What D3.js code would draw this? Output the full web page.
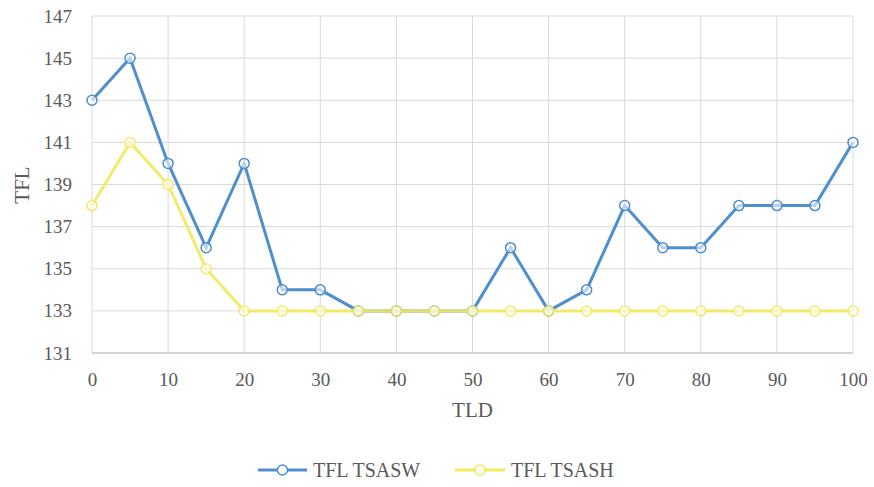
<!DOCTYPE html>
<html><head><meta charset="utf-8">
<script src="https://cdn.jsdelivr.net/npm/d3@7"></script>
</head><body style="margin:0;background:#fff">
<script>
const xValues = [0,5,10,15,20,25,30,35,40,45,50,55,60,65,70,75,80,85,90,95,100];
const tsasw = [143,145,140,136,140,134,134,133,133,133,133,136,133,134,138,136,136,138,138,138,141];
const tsash = [138,141,139,135,133,133,133,133,133,133,133,133,133,133,133,133,133,133,133,133,133];
const xTicks = [0,10,20,30,40,50,60,70,80,90,100];
const yTicks = [131,133,135,137,139,141,143,145,147];
const seriesNames = ["TFL TSASW","TFL TSASH"];
const colors = ["#4f8fcc","#f0ea5c"];

const W=874,H=487;
const FF="Liberation Serif";
const svg=d3.select("body").append("svg").attr("width",W).attr("height",H)
  .style("display","block").attr("font-family",FF).style("font-family",'"Liberation Serif"');
const x=d3.scaleLinear().domain([0,100]).range([92,853]);
const y=d3.scaleLinear().domain([131,147]).range([353,16]);
const txt="#595959";

svg.append("g").selectAll("line.h").data(yTicks).join("line")
  .attr("x1",x(0)).attr("x2",x(100)).attr("y1",d=>y(d)).attr("y2",d=>y(d))
  .attr("stroke","#d9d9d9").attr("stroke-width",1);
svg.append("g").selectAll("line.v").data(xTicks).join("line")
  .attr("x1",d=>x(d)).attr("x2",d=>x(d)).attr("y1",y(131)).attr("y2",y(147))
  .attr("stroke","#d9d9d9").attr("stroke-width",1);
svg.append("line").attr("x1",x(0)).attr("x2",x(100)).attr("y1",y(131)).attr("y2",y(131)).attr("stroke","#bfbfbf");

const yAxis=d3.axisLeft(y).tickValues(yTicks).tickSize(0).tickPadding(20);
const gy=svg.append("g").attr("transform",`translate(${x(0)},0)`).call(yAxis).attr("font-family",FF);
gy.select(".domain").remove();
gy.selectAll("text").attr("font-family",FF).attr("font-size",19).attr("fill",txt);
const xAxis=d3.axisBottom(x).tickValues(xTicks).tickSize(0).tickPadding(20);
const gx=svg.append("g").attr("transform",`translate(0,${y(131)})`).call(xAxis).attr("font-family",FF);
gx.select(".domain").remove();
gx.selectAll("text").attr("font-family",FF).attr("font-size",19).attr("fill",txt);

svg.append("text").attr("x",x(50)).attr("y",417).attr("text-anchor","middle")
  .attr("font-family",FF).attr("font-size",21).attr("fill",txt).text("TLD");
svg.append("text").attr("transform","translate(29,185) rotate(-90)").attr("text-anchor","middle")
  .attr("font-family",FF).attr("font-size",21).attr("fill",txt).text("TFL");

const line=d3.line().x((d,i)=>x(xValues[i])).y(d=>y(d));
[tsasw,tsash].forEach((s,k)=>{
  const g=svg.append("g").attr("opacity",k===1?0.9:1);
  g.append("path").datum(s).attr("d",line).attr("fill","none").attr("stroke",colors[k]).attr("stroke-width",3);
  g.selectAll("circle").data(s).join("circle").attr("cx",(d,i)=>x(xValues[i])).attr("cy",d=>y(d)).attr("r",5)
    .attr("fill","#fff").attr("fill-opacity",0.6).attr("stroke",colors[k]).attr("stroke-width",1.5);
});

const leg=[{x1:258,x2:307,tx:313},{x1:455,x2:505,tx:511}];
leg.forEach((l,k)=>{
  svg.append("line").attr("x1",l.x1).attr("x2",l.x2).attr("y1",470).attr("y2",470).attr("stroke",colors[k]).attr("stroke-width",3);
  svg.append("circle").attr("cx",(l.x1+l.x2)/2).attr("cy",470).attr("r",5).attr("fill","#fff").attr("stroke",colors[k]).attr("stroke-width",1.5);
  svg.append("text").attr("x",l.tx).attr("y",477).attr("font-family",FF).attr("font-size",20).attr("fill",txt).text(seriesNames[k]);
});
</script>
</body></html>
